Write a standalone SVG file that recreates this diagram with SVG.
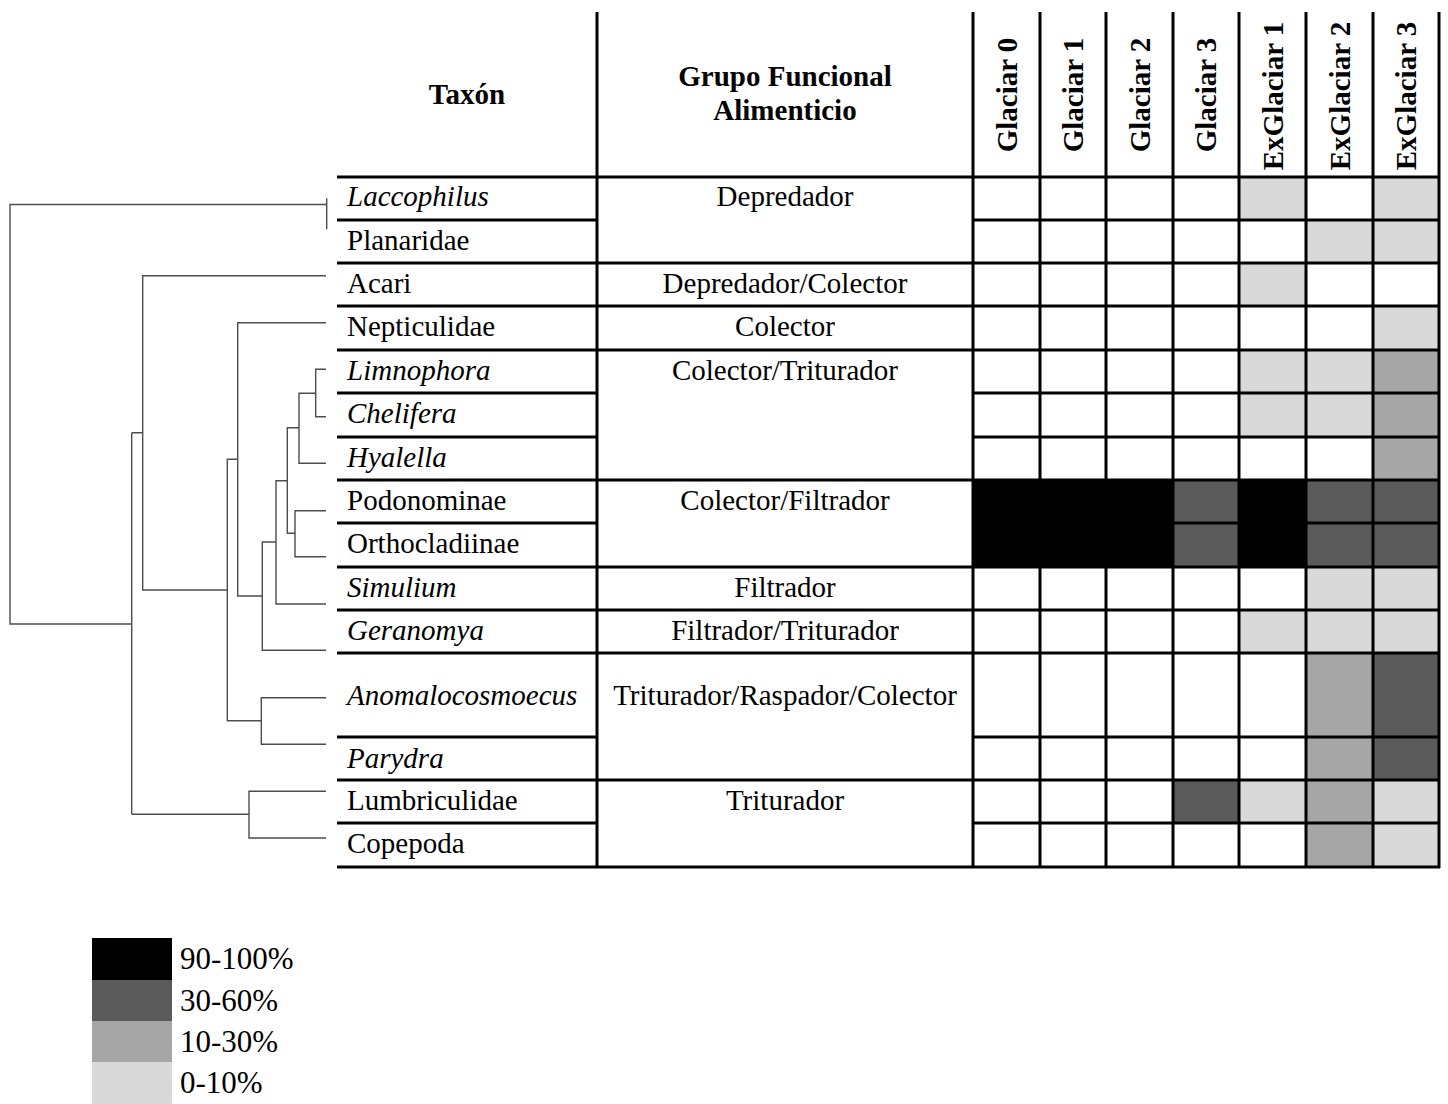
<svg xmlns="http://www.w3.org/2000/svg" width="1448" height="1104" viewBox="0 0 1448 1104">
<style>
text{font-family:"Liberation Serif","Times New Roman",serif;font-size:29px;fill:#000}
.b{font-weight:bold}
.i{font-style:italic}
.m{text-anchor:middle}
.g{stroke:#000;stroke-width:3;fill:none}
.d{stroke:#4d4d4d;stroke-width:1.4;fill:none}
.lg{font-size:31px}
.L{fill:#d9d9d9}.M{fill:#a6a6a6}.D{fill:#5a5a5a}.B{fill:#000}
</style>
<rect width="1448" height="1104" fill="#fff"/>
<g id="cells">
<rect class="L" x="1239" y="177" width="67" height="43"/><rect class="L" x="1373" y="177" width="66" height="43"/>
<rect class="L" x="1306" y="220" width="67" height="43"/><rect class="L" x="1373" y="220" width="66" height="43"/>
<rect class="L" x="1239" y="263" width="67" height="43"/>
<rect class="L" x="1373" y="306" width="66" height="44"/>
<rect class="L" x="1239" y="350" width="67" height="43"/><rect class="L" x="1306" y="350" width="67" height="43"/><rect class="M" x="1373" y="350" width="66" height="43"/>
<rect class="L" x="1239" y="393" width="67" height="44"/><rect class="L" x="1306" y="393" width="67" height="44"/><rect class="M" x="1373" y="393" width="66" height="44"/>
<rect class="M" x="1373" y="437" width="66" height="43"/>
<rect class="B" x="973" y="480" width="200" height="87"/><rect class="D" x="1173" y="480" width="66" height="87"/><rect class="B" x="1239" y="480" width="67" height="87"/><rect class="D" x="1306" y="480" width="133" height="87"/>
<rect class="L" x="1306" y="567" width="67" height="43"/><rect class="L" x="1373" y="567" width="66" height="43"/>
<rect class="L" x="1239" y="610" width="67" height="43"/><rect class="L" x="1306" y="610" width="67" height="43"/><rect class="L" x="1373" y="610" width="66" height="43"/>
<rect class="M" x="1306" y="653" width="67" height="127"/><rect class="D" x="1373" y="653" width="66" height="127"/>
<rect class="D" x="1173" y="780" width="66" height="43"/><rect class="L" x="1239" y="780" width="67" height="43"/><rect class="M" x="1306" y="780" width="67" height="43"/><rect class="L" x="1373" y="780" width="66" height="43"/>
<rect class="M" x="1306" y="823" width="67" height="44"/><rect class="L" x="1373" y="823" width="66" height="44"/>
</g>
<g id="grid" class="g">
<path d="M597 12V868M973 12V868M1040 12V868M1106 12V868M1173 12V868M1239 12V868M1306 12V868M1373 12V868M1439 12V868"/>
<path d="M337 177H1440M337 263H1440M337 306H1440M337 350H1440M337 480H1440M337 567H1440M337 610H1440M337 653H1440M337 780H1440M337 867H1440"/>
<path d="M337 220H597M973 220H1440M337 393H597M973 393H1440M337 437H597M973 437H1440M337 523H597M973 523H1440M337 737H597M973 737H1440M337 823H597M973 823H1440"/>
</g>
<g id="headers" class="b">
<text class="m" x="467" y="104">Taxón</text>
<text class="m" x="785" y="86">Grupo Funcional</text>
<text class="m" x="785" y="120">Alimenticio</text>
<text class="m" transform="translate(1016.5 95) rotate(-90)">Glaciar 0</text>
<text class="m" transform="translate(1083 95) rotate(-90)">Glaciar 1</text>
<text class="m" transform="translate(1149.5 95) rotate(-90)">Glaciar 2</text>
<text class="m" transform="translate(1216 95) rotate(-90)">Glaciar 3</text>
<text class="m" transform="translate(1282.5 96) rotate(-90)">ExGlaciar 1</text>
<text class="m" transform="translate(1349.5 96) rotate(-90)">ExGlaciar 2</text>
<text class="m" transform="translate(1416 96) rotate(-90)">ExGlaciar 3</text>
</g>
<g id="taxa">
<text class="i" x="347" y="206">Laccophilus</text>
<text x="347" y="250">Planaridae</text>
<text x="347" y="293">Acari</text>
<text x="347" y="336">Nepticulidae</text>
<text class="i" x="347" y="380">Limnophora</text>
<text class="i" x="347" y="423">Chelifera</text>
<text class="i" x="347" y="467">Hyalella</text>
<text x="347" y="510">Podonominae</text>
<text x="347" y="553">Orthocladiinae</text>
<text class="i" x="347" y="597">Simulium</text>
<text class="i" x="347" y="640">Geranomya</text>
<text class="i" x="347" y="705">Anomalocosmoecus</text>
<text class="i" x="347" y="768">Parydra</text>
<text x="347" y="810">Lumbriculidae</text>
<text x="347" y="853">Copepoda</text>
</g>
<g id="groups">
<text class="m" x="785" y="206">Depredador</text>
<text class="m" x="785" y="293">Depredador/Colector</text>
<text class="m" x="785" y="336">Colector</text>
<text class="m" x="785" y="380">Colector/Triturador</text>
<text class="m" x="785" y="510">Colector/Filtrador</text>
<text class="m" x="785" y="597">Filtrador</text>
<text class="m" x="785" y="640">Filtrador/Triturador</text>
<text class="m" x="785" y="705">Triturador/Raspador/Colector</text>
<text class="m" x="785" y="810">Triturador</text>
</g>
<g id="dendrogram" class="d">
<path d="M326.7 198.3V229.3M326.7 204.5H10V624H131.7"/>
<path d="M131.7 432.7V814.3M131.7 432.7H142.7M131.7 814.3H249"/>
<path d="M326 275.7H142.7V590H227.3"/>
<path d="M237.7 459.3H227.3V720.7H261.3"/>
<path d="M326 322.7H237.7V596H262.3"/>
<path d="M276 542H262.3V650.3H326"/>
<path d="M287.3 480.7H276V604H326"/>
<path d="M299 427.7H287.3V533.3H295"/>
<path d="M315.7 393.3H299V463.3H326"/>
<path d="M326 369.3H315.7V416.7H326"/>
<path d="M326 510.7H295V556.7H326"/>
<path d="M326 697.7H261.3V744.3H326"/>
<path d="M326 791.3H249V838H326"/>
</g>
<g id="legend">
<rect class="B" x="92" y="938" width="80" height="42"/>
<rect class="D" x="92" y="980" width="80" height="41"/>
<rect class="M" x="92" y="1021" width="80" height="41"/>
<rect class="L" x="92" y="1062" width="80" height="42"/>
<text class="lg" x="180" y="969">90-100%</text>
<text class="lg" x="180" y="1011">30-60%</text>
<text class="lg" x="180" y="1052">10-30%</text>
<text class="lg" x="180" y="1093">0-10%</text>
</g>
</svg>
